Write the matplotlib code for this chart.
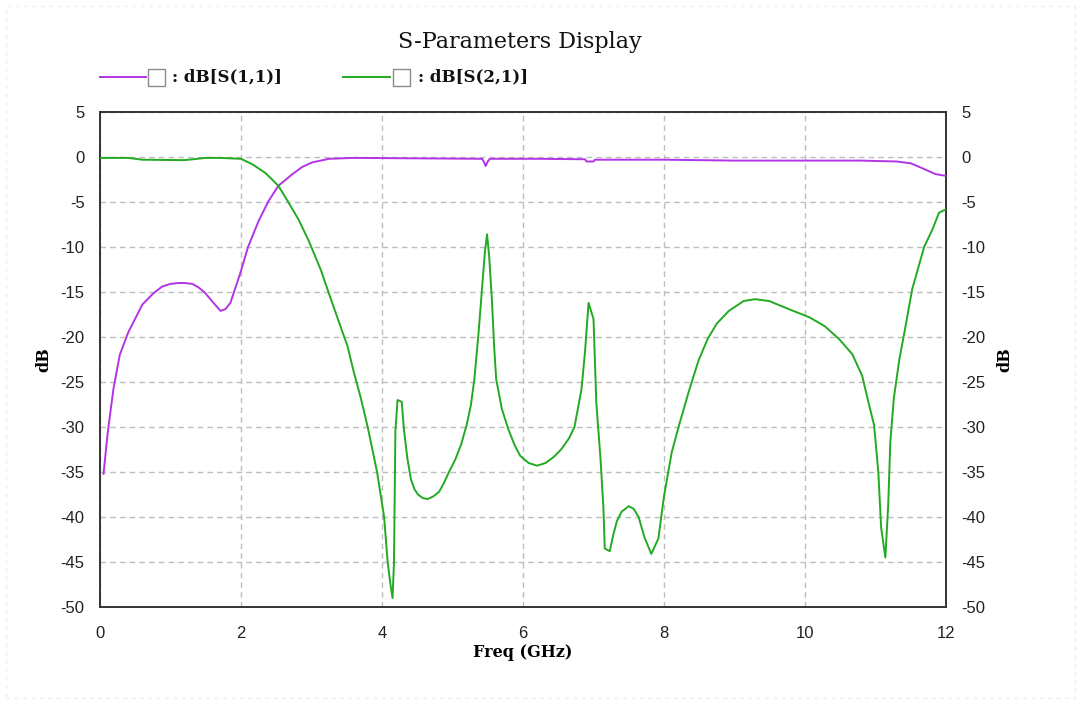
import matplotlib
matplotlib.use("Agg")
import matplotlib.pyplot as plt
from matplotlib.lines import Line2D
from matplotlib.patches import Rectangle

plt.rcParams["axes.unicode_minus"] = False

# Frequency sweep (GHz) and magnitudes (dB)
freq_s11 = [0.05, 0.11, 0.19, 0.28, 0.4, 0.6, 0.75, 0.88, 1.0, 1.11, 1.2,
            1.31, 1.4, 1.49, 1.62, 1.71, 1.78, 1.85, 1.99, 2.1, 2.25, 2.39,
            2.53, 2.73, 2.87, 3.01, 3.25, 3.6, 4.5, 5.42, 5.45, 5.47, 5.5,
            5.53, 6.2, 6.88, 6.9, 7.0, 7.02, 8.0, 9.0, 10.0, 10.8, 11.3, 11.5,
            11.65, 11.85, 12.0]
db_s11 = [-35.2, -30.6, -25.8, -22.0, -19.5, -16.4, -15.2, -14.4, -14.1, -14.0,
          -14.0, -14.1, -14.5, -15.1, -16.3, -17.1, -16.9, -16.2, -12.9, -10.0,
          -7.1, -4.9, -3.2, -1.9, -1.1, -0.6, -0.2, -0.1, -0.15, -0.2, -0.6,
          -1.0, -0.5, -0.2, -0.2, -0.25, -0.5, -0.5, -0.3, -0.3, -0.4, -0.4,
          -0.4, -0.5, -0.7, -1.2, -1.9, -2.1]

freq_s21 = [0.0, 0.4, 0.6, 1.2, 1.5, 1.7, 2.0, 2.16, 2.35, 2.53, 2.67, 2.82,
            2.96, 3.13, 3.24, 3.41, 3.51, 3.6, 3.7, 3.8, 3.93, 4.03, 4.08,
            4.12, 4.15, 4.17, 4.19, 4.22, 4.28, 4.31, 4.36, 4.41, 4.46, 4.51,
            4.58, 4.65, 4.73, 4.81, 4.88, 4.95, 5.04, 5.12, 5.2, 5.26, 5.31,
            5.37, 5.42, 5.46, 5.49, 5.52, 5.56, 5.59, 5.62, 5.7, 5.79, 5.88,
            5.96, 6.08, 6.2, 6.32, 6.44, 6.54, 6.65, 6.73, 6.83, 6.88, 6.93,
            7.0, 7.04, 7.1, 7.14, 7.16, 7.23, 7.28, 7.33, 7.4, 7.5, 7.57, 7.64,
            7.72, 7.82, 7.92, 8.0, 8.11, 8.21, 8.35, 8.49, 8.62, 8.75, 8.92,
            9.13, 9.29, 9.49, 9.77, 10.06, 10.28, 10.48, 10.67, 10.81, 10.88,
            10.98, 11.04, 11.08, 11.14, 11.18, 11.21, 11.26, 11.34, 11.41,
            11.52, 11.69, 11.81, 11.9, 12.0]
db_s21 = [-0.1, -0.1, -0.3, -0.35, -0.1, -0.1, -0.2, -0.8, -1.8, -3.2, -5.0,
          -7.0, -9.3, -12.5, -15.0, -18.8, -21.0, -23.9, -26.8, -30.1, -35.0,
          -40.0, -45.0, -47.5, -49.0, -45.0, -30.5, -27.0, -27.2, -30.2, -33.5,
          -35.8, -36.9, -37.5, -37.9, -38.0, -37.7, -37.2, -36.2, -35.0, -33.6,
          -32.0, -29.8, -27.6, -24.7, -19.5, -14.5, -10.5, -8.6, -11.0, -16.0,
          -21.0, -24.7, -28.0, -30.2, -32.0, -33.2, -34.0, -34.3, -34.0, -33.3,
          -32.5, -31.3, -30.0, -25.8, -21.6, -16.2, -18.0, -27.3, -33.6, -38.9,
          -43.5, -43.8, -42.0, -40.5, -39.4, -38.8, -39.1, -40.0, -42.2, -44.1,
          -42.4, -37.7, -32.8, -29.9, -26.1, -22.6, -20.2, -18.5, -17.1, -16.0,
          -15.8, -16.0, -16.9, -17.8, -18.8, -20.2, -21.9, -24.3, -26.6, -29.8,
          -35.0, -41.2, -44.5, -38.7, -31.7, -26.8, -22.4, -19.5, -14.7, -10.0,
          -8.0, -6.2, -5.8]

x_ticks = [0, 2, 4, 6, 8, 10, 12]
y_ticks = [5, 0, -5, -10, -15, -20, -25, -30, -35, -40, -45, -50]
series_labels = [": dB[S(1,1)]", ": dB[S(2,1)]"]
series_colors = ["#b234e6", "#22aa22"]

W, H = 1081, 704
fig = plt.figure(figsize=(W / 100, H / 100), dpi=100)
fig.patch.set_facecolor("white")

serif = ["DejaVu Serif"]
sans = ["Liberation Sans", "DejaVu Sans"]

ax = fig.add_axes([100 / W, 1 - 607 / H, 846 / W, 495 / H])
ax.plot(freq_s11, db_s11, color=series_colors[0], lw=1.4, zorder=3)
ax.plot(freq_s21, db_s21, color=series_colors[1], lw=1.4, zorder=3)

ax.set_xlim(0, 12)
ax.set_ylim(-50, 5)
ax.set_xticks(x_ticks)
ax.set_yticks(y_ticks)
ax.grid(True, color="#bdbdbd", linestyle=(0, (4, 3)), lw=1.0, zorder=1)
for s in ax.spines.values():
    s.set_color("#333333")
    s.set_linewidth(1.4)
ax.tick_params(length=0, labelsize=12, colors="#222222", pad=11)
ax.tick_params(axis="x", pad=14)
for lab in ax.get_xticklabels() + ax.get_yticklabels():
    lab.set_family(sans)

ax_r = ax.twinx()
ax_r.set_ylim(-50, 5)
ax_r.set_yticks(y_ticks)
ax_r.tick_params(length=0, labelsize=12, colors="#222222", pad=11)
for lab in ax_r.get_yticklabels():
    lab.set_family(sans)
for s in ax_r.spines.values():
    s.set_visible(False)

ax.set_xlabel("Freq (GHz)", family=serif, fontweight="bold", fontsize=11.5, labelpad=2)
ax.set_ylabel("dB", family=serif, fontweight="bold", fontsize=11.5, labelpad=6)
ax_r.set_ylabel("dB", family=serif, fontweight="bold", fontsize=11.5, labelpad=8)

fig.text(520 / W, 1 - 42 / H, "S-Parameters Display", family=serif,
         fontsize=16, ha="center", va="center", color="#111111")

# Legend row: line sample, checkbox, label
legend_items = [(100, 146, 148, 172), (343, 390, 393, 418)]
for (x0, x1, bx, tx), lab, col in zip(legend_items, series_labels, series_colors):
    y = 1 - 77 / H
    fig.add_artist(Line2D([x0 / W, x1 / W], [y, y], color=col, lw=1.4,
                          transform=fig.transFigure))
    fig.add_artist(Rectangle((bx / W, 1 - 86 / H), 17 / W, 17 / H,
                             transform=fig.transFigure, facecolor="white",
                             edgecolor="#8a8a8a", lw=1.0))
    fig.text(tx / W, y, lab, family=serif, fontweight="bold", fontsize=12,
             ha="left", va="center", color="#111111")

# Faint outer frame
fig.add_artist(Rectangle((6 / W, 6 / H), (W - 12) / W, (H - 12) / H,
                         transform=fig.transFigure, fill=False,
                         edgecolor="#eeeeee", lw=1.0, linestyle=(0, (3, 3))))

fig.savefig("out.png", dpi=100)
